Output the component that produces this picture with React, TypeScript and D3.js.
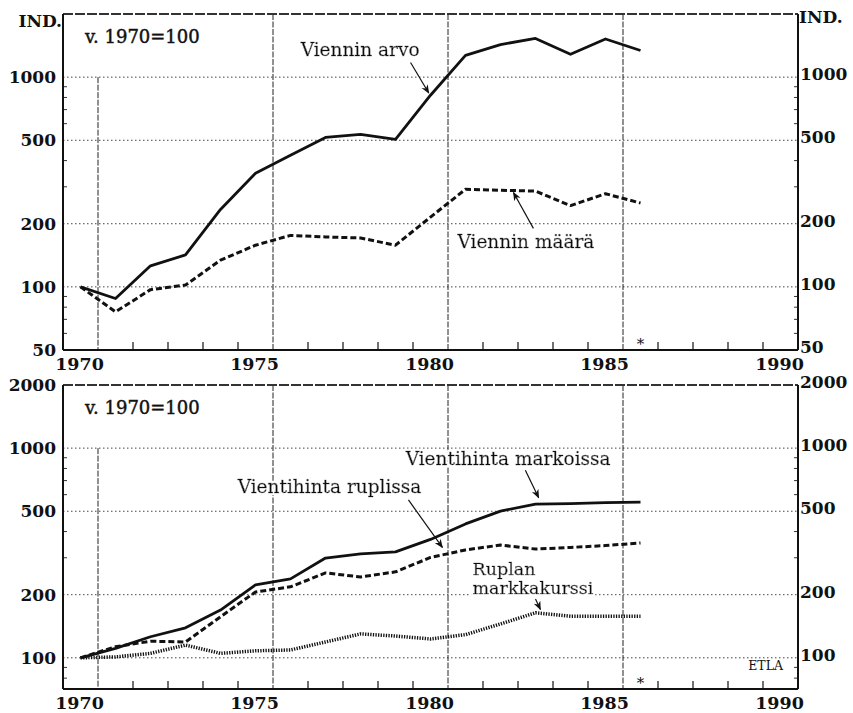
import React from "react";
import * as d3 from "d3";

const years = d3.range(1970, 1987);

// Top panel series
const vienninArvo = [100, 88, 126, 142, 234, 348, 424, 516, 534, 505, 820, 1270, 1430, 1530, 1285, 1520, 1340];
const vienninMaara = [100, 76, 97, 102, 134, 158, 176, 173, 171, 158, 215, 292, 289, 286, 244, 278, 251];

// Bottom panel series
const hintaMarkoissa = [100, 111, 126, 139, 169, 223, 238, 299, 313, 320, 367, 435, 501, 541, 544, 550, 553];
const hintaRuplissa = [100, 113, 120, 119, 157, 206, 218, 254, 243, 257, 301, 327, 345, 330, 336, 343, 353];
const ruplanKurssi = [100, 101, 105, 115, 105, 108, 109, 119, 130, 127, 123, 129, 145, 164, 158, 158, 158];

const yearLabels = [1970, 1975, 1980, 1985, 1990];
const majorLines = [1970.5, 1975.5, 1980.5, 1985.5];
const minorTicks = [1971.5, 1972.5, 1973.5, 1974.5, 1976.5, 1977.5, 1978.5, 1979.5, 1981.5, 1982.5, 1983.5, 1984.5, 1986.5, 1987.5, 1988.5, 1989.5];

const topTicks = [50, 100, 200, 500, 1000];
const topGrid = [100, 200, 500, 1000];
const topMinor = [60, 70, 80, 90, 300, 400, 600, 700, 800, 900];
const botTicks = [100, 200, 500, 1000, 2000];
const botGrid = [100, 200, 500, 1000];
const botMinor = [80, 90, 300, 400, 600, 700, 800, 900];

const W = 853;
const H = 713;
const x = d3.scaleLinear().domain([1969.5, 1990.5]).range([63, 798]);
const yTop = d3.scaleLog().domain([50, 2000]).range([350, 14]);
const yBot = d3.scaleLog().domain([71, 2000]).range([689, 385]);

const numFont = "'DejaVu Serif', serif";
const ink = "#111";

type Ann = { lines: string[]; tx: number; tv: number; ax0: number; av0: number; ax1: number; av1: number; lh?: number; fs?: number };

const topAnns: Ann[] = [
  { lines: ["Viennin arvo"], tx: 1976.29, tv: 1256, ax0: 1979.43, av0: 1175, ax1: 1979.95, av1: 840 },
  { lines: ["Viennin määrä"], tx: 1980.77, tv: 153, ax0: 1982.94, av0: 190, ax1: 1982.37, av1: 282 },
];
const botAnns: Ann[] = [
  { lines: ["Vientihinta markoissa"], tx: 1979.29, tv: 830, ax0: 1982.71, av0: 785, ax1: 1983.09, av1: 580 },
  { lines: ["Vientihinta ruplissa"], tx: 1974.49, tv: 610, ax0: 1979.37, av0: 566, ax1: 1980.34, av1: 336 },
  { lines: ["Ruplan", "markkakurssi"], tx: 1981.2, tv: 249, ax0: 1983.0, av0: 191, ax1: 1983.14, av1: 170, lh: 19.5, fs: 17.5 },
];

function AnnText({ a, y }: { a: Ann; y: any }) {
  return (
    <g>
      {a.lines.map((l, j) => (
        <text key={j} x={x(a.tx)} y={y(a.tv) + j * (a.lh || 0)} fontFamily={numFont} fontSize={a.fs || 18.5} fill={ink} stroke={ink} strokeWidth={0.45} filter="url(#halo)">
          {l}
        </text>
      ))}
    </g>
  );
}

function Panel({ y, ticks, grid, minor, series, anns }: any) {
  const [y0, y1] = y.range();
  const x0 = x.range()[0];
  const x1 = x.range()[1];
  const line = (vals: number[]) =>
    d3.line<number>().x((_, i) => x(years[i])).y((v) => y(v))(vals) as string;
  return (
    <g>
      {grid.map((g: number) => (
        <line key={"g" + g} x1={x0} x2={x1} y1={y(g)} y2={y(g)} stroke="#444" strokeWidth={1} strokeDasharray="1.5 2.5" />
      ))}
      {majorLines.map((m) => (
        <line key={"m" + m} x1={x(m)} x2={x(m)} y1={m === 1970.5 ? y(1000) : y1} y2={y0} stroke="#222" strokeWidth={1} strokeDasharray="6 1.5" />
      ))}
      {minorTicks.map((m) => (
        <line key={"t" + m} x1={x(m)} x2={x(m)} y1={y0} y2={y0 - 8} stroke={ink} strokeWidth={1.2} />
      ))}
      {minor.map((v: number) => (
        <g key={"mi" + v}>
          <line x1={x0} x2={x0 + 4} y1={y(v)} y2={y(v)} stroke="#333" strokeWidth={1} />
          <line x1={x1} x2={x1 - 4} y1={y(v)} y2={y(v)} stroke="#333" strokeWidth={1} />
        </g>
      ))}
      {/* frame */}
      <line x1={x0} x2={x1} y1={y1} y2={y1} stroke="#333" strokeWidth={2} strokeDasharray="10 2" />
      <line x1={x0} x2={x0} y1={y1} y2={y0} stroke={ink} strokeWidth={2} />
      <line x1={x1} x2={x1} y1={y1} y2={y0} stroke={ink} strokeWidth={2} />
      <line x1={x0} x2={x1} y1={y0} y2={y0} stroke={ink} strokeWidth={2} />
      {/* axis labels */}
      {ticks.map((t: number) => (
        <g key={"l" + t}>
          <text x={56} y={y(t)} dy="0.36em" textAnchor="end" fontFamily={numFont} fontWeight="bold" fontSize={17} fill={ink}>{t}</text>
          <text x={800} y={y(t) - 3} dy="0.36em" textAnchor="start" fontFamily={numFont} fontWeight="bold" fontSize={17} fill={ink}>{t}</text>
        </g>
      ))}
      {yearLabels.map((yr) => (
        <text key={"yr" + yr} x={x(yr) - 1} y={y0 + 20} textAnchor="middle" fontFamily={numFont} fontWeight="bold" fontSize={17.5} fill={ink}>{yr}</text>
      ))}
      <text x={x(1986)} y={y0 - 1} textAnchor="middle" fontFamily={numFont} fontSize={15} fill={ink}>*</text>
      <text x={85} y={y1 + 29} fontFamily={numFont} fontSize={18} fill={ink} stroke={ink} strokeWidth={0.45}>v. 1970=100</text>
      {/* series */}
      {series.map((s: any, i: number) => (
        <path key={"s" + i} d={line(s.values)} fill="none" stroke={ink} strokeWidth={s.w} strokeDasharray={s.dash} strokeLinejoin="round" />
      ))}
      {/* annotations */}
      {anns.map((a: Ann, i: number) => (
        <g key={"a" + i}>
          <AnnText a={a} y={y} />
          <line x1={x(a.ax0)} y1={y(a.av0)} x2={x(a.ax1)} y2={y(a.av1)} stroke={ink} strokeWidth={1.2} markerEnd="url(#arr)" />
        </g>
      ))}
    </g>
  );
}

export default function App() {
  return (
    <svg width={W} height={H} style={{ position: "absolute", left: 0, top: 0, background: "white" }}>
      <defs>
        <marker id="arr" viewBox="0 0 10 10" refX="9" refY="5" markerWidth="9" markerHeight="9" markerUnits="userSpaceOnUse" orient="auto">
          <path d="M0,1 L10,5 L0,9 L3,5 Z" fill={ink} />
        </marker>
        <filter id="halo" x="-10%" y="-30%" width="120%" height="160%">
          <feMorphology in="SourceAlpha" operator="dilate" radius="2" result="d" />
          <feFlood floodColor="white" result="w" />
          <feComposite in="w" in2="d" operator="in" result="bg" />
          <feMerge>
            <feMergeNode in="bg" />
            <feMergeNode in="SourceGraphic" />
          </feMerge>
        </filter>
      </defs>
      <rect width={W} height={H} fill="white" />
      <Panel
        y={yTop}
        ticks={topTicks}
        grid={topGrid}
        minor={topMinor}
        series={[
          { values: vienninArvo, w: 2.8 },
          { values: vienninMaara, w: 3, dash: "6 3" },
        ]}
        anns={topAnns}
      />
      <Panel
        y={yBot}
        ticks={botTicks}
        grid={botGrid}
        minor={botMinor}
        series={[
          { values: hintaMarkoissa, w: 2.8 },
          { values: hintaRuplissa, w: 3, dash: "6 3" },
          { values: ruplanKurssi, w: 3.5, dash: "1.3 1.3" },
        ]}
        anns={botAnns}
      />
      <text x={62} y={27} textAnchor="end" fontFamily={numFont} fontWeight="bold" fontSize={17} fill={ink}>IND.</text>
      <text x={799} y={23} textAnchor="start" fontFamily={numFont} fontWeight="bold" fontSize={17} fill={ink}>IND.</text>
      <text x={783} y={670} textAnchor="end" fontFamily={numFont} fontSize={12.5} fill={ink}>ETLA</text>
    </svg>
  );
}
